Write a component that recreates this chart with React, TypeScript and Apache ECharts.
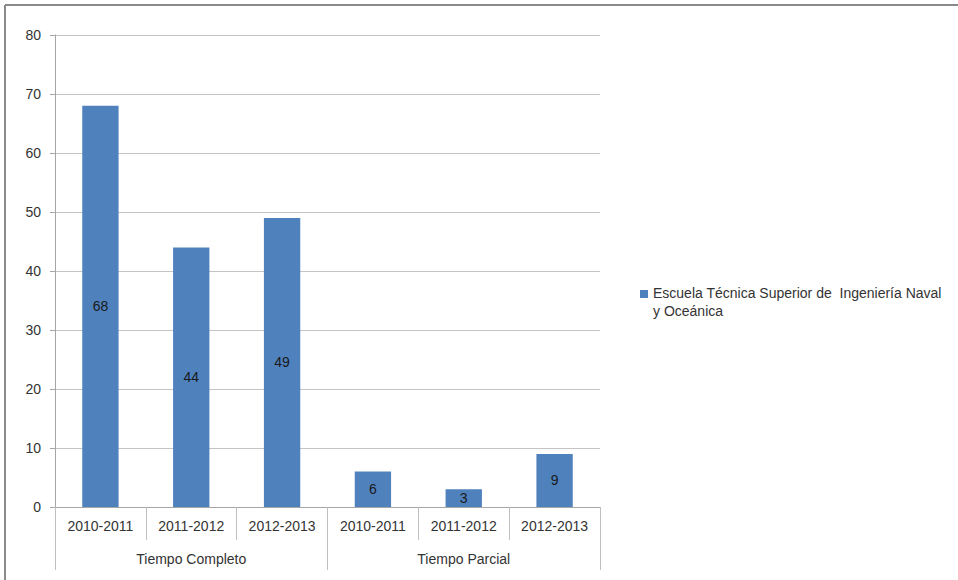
import React, { useEffect, useRef } from "react";
import * as echarts from "echarts";

const yearLabels = ["2010-2011", "2011-2012", "2012-2013", "2010-2011", "2011-2012", "2012-2013"];
const groupLabels = ["Tiempo Completo", "Tiempo Parcial"];
const seriesName = "Escuela Técnica Superior de  Ingeniería Naval y Oceánica";
const legendLines = ["Escuela Técnica Superior de  Ingeniería Naval", "y Oceánica"];
const values = [68, 44, 49, 6, 3, 9];
const yTicks = { min: 0, max: 80, interval: 10 };

const FONT = "'Liberation Sans', Arial, sans-serif";

export default function App() {
  const ref = useRef<HTMLDivElement>(null);
  useEffect(() => {
    if (!ref.current) return;
    const chart = echarts.init(ref.current, undefined, { renderer: "svg" });
    chart.setOption({
      animation: false,
      backgroundColor: "#ffffff",
      textStyle: { fontFamily: FONT },
      grid: { left: 55, right: 358, top: 35, bottom: 73, containLabel: false },
      legend: {
        show: true,
        left: 635,
        top: 279,
        orient: "vertical",
        icon: "path://M0,0H8V8H0Z M0,23.9H0.05V24H0Z",
        itemWidth: 8,
        itemHeight: 24,
        formatter: () => legendLines.join("\n"),
        textStyle: { fontSize: 14, color: "#333", lineHeight: 18, fontFamily: FONT },
      },
      xAxis: [
        {
          type: "category",
          data: yearLabels,
          position: "bottom",
          axisLine: { show: true, lineStyle: { color: "#a6a6a6", width: 1 } },
          axisTick: { show: true, interval: 0, length: 33, lineStyle: { color: "#bfbfbf" } },
          axisLabel: { interval: 0, margin: 12, fontSize: 14, color: "#333", fontFamily: FONT },
          splitLine: { show: false },
        },
        {
          type: "category",
          data: groupLabels,
          position: "bottom",
          axisLine: { show: false },
          axisTick: { show: true, interval: 0, length: 63, lineStyle: { color: "#bfbfbf" } },
          axisLabel: { interval: 0, margin: 45, fontSize: 14, color: "#333", fontFamily: FONT },
          splitLine: { show: false },
        },
      ],
      yAxis: {
        type: "value",
        min: yTicks.min,
        max: yTicks.max,
        interval: yTicks.interval,
        axisLine: { show: true, lineStyle: { color: "#a6a6a6" } },
        axisTick: { show: true, length: 5, lineStyle: { color: "#a6a6a6" } },
        axisLabel: { margin: 14, fontSize: 14, color: "#333", fontFamily: FONT },
        splitLine: { show: true, lineStyle: { color: "#c4c4c4", width: 1 } },
      },
      series: [
        {
          name: seriesName,
          type: "bar",
          xAxisIndex: 0,
          data: values,
          barWidth: "40%",
          itemStyle: { color: "#4f81bd" },
          label: { show: true, position: "inside", color: "#1a1a1a", fontSize: 14, fontFamily: FONT },
        },
      ],
      graphic: [
        { type: "line", shape: { x1: 5, y1: 5, x2: 958, y2: 5 }, style: { stroke: "#8a8a8a", lineWidth: 2 } },
        { type: "line", shape: { x1: 5, y1: 5, x2: 5, y2: 580 }, style: { stroke: "#8a8a8a", lineWidth: 2 } },
      ],
    });
    return () => chart.dispose();
  }, []);
  return <div ref={ref} style={{ width: 958, height: 580, position: "absolute", left: 0, top: 0 }} />;
}
